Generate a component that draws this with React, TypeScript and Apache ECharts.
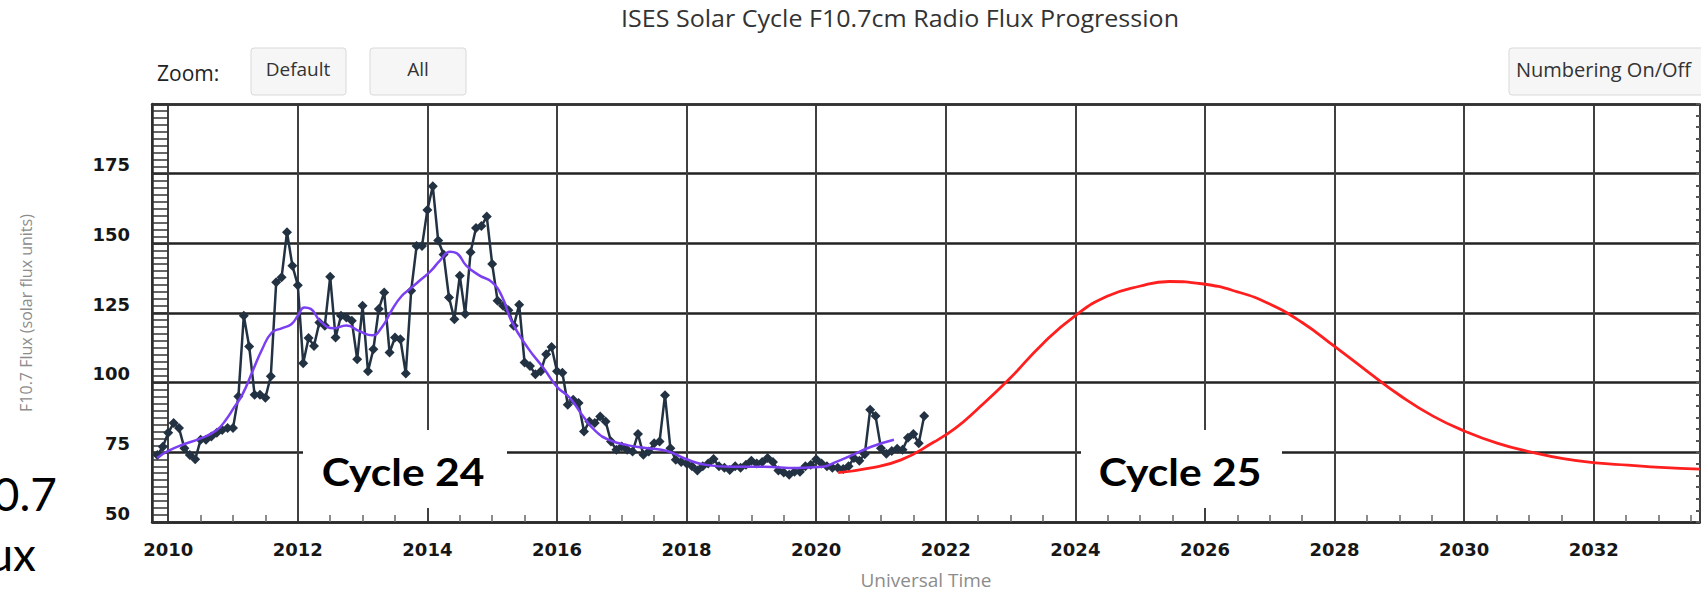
import React, { useEffect, useRef } from 'react';
import * as echarts from 'echarts';

// Observed monthly F10.7, starting November 2009
const obsStartYear = 2009;
const obsStartMonth = 11;
const observedFlux = [
  74, 77,
  82, 85.5, 83.7, 76.5, 74, 72.5, 79.5, 79.5, 80.7, 82, 83, 83.7,
  83.7, 95, 124, 113, 95.7, 95.7, 94.6, 102.3, 136, 137.8, 154, 142,
  135, 107, 116, 113.2, 121.6, 120.4, 138, 116.2, 124, 123.4, 122.2, 108.4,
  127.6, 104.1, 112, 126.4, 132.4, 110.8, 116.2, 115.6, 103.3, 133, 149, 149,
  162, 170.5, 151, 146, 130.6, 122.8, 138.4, 124.6, 146.8, 155.5, 156.2, 159.6,
  142.6, 129.4, 127.6, 126, 120.4, 128, 107.2, 106, 103, 104.1, 110.2, 112.8,
  104.1, 103.6, 92.1, 93.9, 92.7, 82.5, 86.1, 85.5, 87.9, 86.1, 78.9, 75.9,
  77.1, 75.9, 75.3, 81.6, 74.1, 75.3, 78.3, 78.9, 95.5, 76.5, 72.3, 71.5,
  71, 70, 68.5, 70, 71, 72.6, 70, 69.5, 68.7, 70, 69.5, 70.5,
  72, 71, 71.5, 73, 71.5, 68.5, 67.8, 67, 68, 68, 70, 70.5,
  72.5, 71, 70, 69.5, 69.5, 69, 70, 73, 72, 74.3, 90.3, 88,
  76.5, 74.5, 75.5, 76.3, 75.9, 80.2, 81.6, 78.3, 88,
];

// Smoothed observed flux (purple)
const smoothYears = [
  2009.83, 2010.0, 2010.25, 2010.5, 2010.75, 2010.9, 2011.0, 2011.15, 2011.3, 2011.45,
  2011.6, 2011.75, 2011.9, 2012.0, 2012.1, 2012.2, 2012.35, 2012.55, 2012.75, 2012.95,
  2013.15, 2013.3, 2013.45, 2013.6, 2013.75, 2013.9, 2014.05, 2014.2, 2014.35, 2014.45,
  2014.6, 2014.8, 2015.0, 2015.15, 2015.3, 2015.55, 2015.8, 2016.0, 2016.2, 2016.4,
  2016.6, 2016.8, 2017.1, 2017.4, 2017.7, 2018.0, 2018.3, 2018.7, 2019.2, 2019.7,
  2020.1, 2020.3, 2020.55, 2020.85, 2021.2,
];
const smoothFlux = [
  73, 75.5, 78, 80, 83, 87, 90.5, 96, 104, 112,
  118, 119.5, 121, 124, 127, 126.5, 122, 119.5, 120.5, 118.5,
  117, 120, 126, 131, 134, 137, 140, 144, 147, 146.5,
  142, 138.5, 136, 131, 122, 112.5, 105, 98.5, 94.5, 88,
  82.5, 79.5, 77.5, 76.5, 75.5, 72.5, 70.5, 69.8, 69.8, 69.4,
  69.8, 71.5, 74, 77, 79.5,
];

// Cycle 25 predicted flux (red)
const predYears = [
  2020.34, 2020.8, 2021.31, 2021.81, 2022.15, 2022.48, 2022.98, 2023.49, 2023.99, 2024.49,
  2024.99, 2025.45, 2025.95, 2026.5, 2027.0, 2027.5, 2028.0, 2028.51, 2029.01, 2029.52,
  2030.02, 2030.52, 2031.03, 2031.53, 2032.03, 2032.53, 2033.03, 2033.64,
];
const predFlux = [
  67.7, 69.2, 72.3, 78.6, 83.7, 90.3, 101.3, 113.8, 123.9, 131,
  134.6, 136.3, 135.5, 132.6, 128.2, 121.6, 113, 104, 95.4, 88,
  82.5, 78.2, 75.1, 72.7, 71.2, 70.4, 69.6, 69.0,
];

const xMin = 2009.75;
const xMax = 2033.64;
const yMin = 50;
const yMax = 200;
const yStep = 25;

const titleText = 'ISES Solar Cycle F10.7cm Radio Flux Progression';
const yName = 'F10.7 Flux (solar flux units)';
const xName = 'Universal Time';
const cycleLabels = ['Cycle 24', 'Cycle 25'];

export default function App() {
  const ref = useRef<HTMLDivElement>(null);

  useEffect(() => {
    if (!ref.current) return;
    const chart = echarts.init(ref.current, null, { renderer: 'svg' });

    const observed = observedFlux.map((v, i) => {
      const m = obsStartMonth - 1 + i;
      return [obsStartYear + m / 12, v];
    });
    const smooth = smoothYears.map((t, i) => [t, smoothFlux[i]]);
    const pred = predYears.map((t, i) => [t, predFlux[i]]);

    const tickFont = { fontFamily: 'DejaVu Sans', fontWeight: 'bold' as const, fontSize: 18, color: '#161616' };

    const option: any = {
      animation: false,
      backgroundColor: '#ffffff',
      grid: { left: 152, right: 1, top: 104, bottom: 69, show: false, outerBoundsMode: 'none' },
      xAxis: [
        {
          type: 'value',
          min: xMin,
          max: xMax,
          splitNumber: 12,
          minInterval: 2,
          maxInterval: 2,
          name: xName,
          nameLocation: 'middle',
          nameGap: 48,
          nameTextStyle: { fontFamily: 'Open Sans', fontSize: 19, color: '#8c8c8c' },
          axisLine: { show: true, lineStyle: { color: '#2a2a2a', width: 2.5 } },
          axisTick: { show: false, inside: true },
          minorTick: { show: true, splitNumber: 4, length: 7, lineStyle: { color: '#666', width: 1.5 } },
          axisLabel: {
            ...tickFont,
            margin: 18,
            showMinLabel: true,
            showMaxLabel: true,
            formatter: (v: number) => {
              const r = Math.round(v);
              return Math.abs(v - r) < 1e-6 && r % 2 === 0 ? String(r) : '';
            },
          },
          splitLine: { show: true, lineStyle: { color: '#404040', width: 2 } },
        },
        {
          type: 'value',
          position: 'top',
          min: xMin,
          max: xMax,
          axisLine: { show: true, lineStyle: { color: '#333', width: 2.5 } },
          axisTick: { show: false },
          axisLabel: { show: false },
          splitLine: { show: false },
        },
      ],
      yAxis: [
        {
          type: 'value',
          min: yMin,
          max: yMax,
          interval: yStep,
          name: yName,
          nameLocation: 'middle',
          nameRotate: 90,
          nameGap: 118,
          nameTextStyle: { fontFamily: 'Open Sans', fontSize: 16, color: '#8c8c8c' },
          axisLine: { show: true, lineStyle: { color: '#2a2a2a', width: 2.5 } },
          axisTick: { show: true, inside: true, length: 16, lineStyle: { color: '#333', width: 1.5 } },
          minorTick: { show: true, splitNumber: 10, length: 16, lineStyle: { color: '#333', width: 1.5 } },
          axisLabel: {
            ...tickFont,
            margin: 22,
            verticalAlign: 'bottom',
            formatter: (v: number) => (v >= yMax ? '' : String(v)),
          },
          splitLine: { show: true, lineStyle: { color: '#222', width: 2.5 } },
        },
        {
          type: 'value',
          position: 'right',
          min: yMin,
          max: yMax,
          interval: yStep,
          axisLine: { show: false },
          axisTick: { show: true, inside: true, length: 4, lineStyle: { color: '#555', width: 2 } },
          minorTick: { show: true, splitNumber: 6, length: 4, lineStyle: { color: '#555', width: 2 } },
          axisLabel: { show: false },
          splitLine: { show: false },
        },
      ],
      series: [
        {
          name: 'Observed',
          type: 'line',
          data: observed,
          symbol: 'diamond',
          symbolSize: 10,
          lineStyle: { color: '#223243', width: 2.5 },
          itemStyle: { color: '#223243' },
          z: 3,
        },
        {
          name: 'Smoothed',
          type: 'line',
          data: smooth,
          smooth: true,
          symbol: 'none',
          lineStyle: { color: '#7b3ff2', width: 2.5 },
          z: 4,
        },
        {
          name: 'Predicted',
          type: 'line',
          data: pred,
          smooth: true,
          symbol: 'none',
          lineStyle: { color: '#ff1f1f', width: 2.8 },
          z: 4,
        },
      ],
      graphic: [
        {
          type: 'text', x: 900, y: 18, z: 20, scaleX: 1.09,
          style: { text: titleText, font: '23px "Open Sans"', fill: '#333', textAlign: 'center', textVerticalAlign: 'middle' },
        },
        {
          type: 'text', x: 157, y: 73, z: 20,
          style: { text: 'Zoom:', font: '21px "Open Sans"', fill: '#222', textAlign: 'left', textVerticalAlign: 'middle' },
        },
        { type: 'rect', z: 20, shape: { x: 251, y: 48, width: 95, height: 47, r: 3 }, style: { fill: '#f6f6f6', stroke: '#d9d9d9', lineWidth: 1 } },
        {
          type: 'text', x: 298, y: 69, z: 21,
          style: { text: 'Default', font: '19px "Open Sans"', fill: '#333', textAlign: 'center', textVerticalAlign: 'middle' },
        },
        { type: 'rect', z: 20, shape: { x: 370, y: 48, width: 96, height: 47, r: 3 }, style: { fill: '#f6f6f6', stroke: '#d9d9d9', lineWidth: 1 } },
        {
          type: 'text', x: 418, y: 69, z: 21,
          style: { text: 'All', font: '19px "Open Sans"', fill: '#333', textAlign: 'center', textVerticalAlign: 'middle' },
        },
        { type: 'rect', z: 20, shape: { x: 1509, y: 48, width: 200, height: 47, r: 3 }, style: { fill: '#f6f6f6', stroke: '#d9d9d9', lineWidth: 1 } },
        {
          type: 'text', x: 1516, y: 69, z: 21,
          style: { text: 'Numbering On/Off', font: '20px "Open Sans"', fill: '#333', textAlign: 'left', textVerticalAlign: 'middle' },
        },
        { type: 'rect', z: 20, shape: { x: 303, y: 430, width: 204, height: 78 }, style: { fill: '#ffffff' } },
        {
          type: 'text', x: 403, y: 471, z: 21, scaleX: 1.12,
          style: { text: cycleLabels[0], font: 'bold 38px Lato', fill: '#000', textAlign: 'center', textVerticalAlign: 'middle' },
        },
        { type: 'rect', z: 20, shape: { x: 1081, y: 430, width: 201, height: 78 }, style: { fill: '#ffffff' } },
        {
          type: 'text', x: 1180, y: 471, z: 21, scaleX: 1.12,
          style: { text: cycleLabels[1], font: 'bold 38px Lato', fill: '#000', textAlign: 'center', textVerticalAlign: 'middle' },
        },
        {
          type: 'text', x: 57, y: 493, z: 21,
          style: { text: '0.7', font: '46px Lato', fill: '#000', textAlign: 'right', textVerticalAlign: 'middle' },
        },
        {
          type: 'text', x: 36, y: 553, z: 21,
          style: { text: 'ux', font: '46px Lato', fill: '#000', textAlign: 'right', textVerticalAlign: 'middle' },
        },
      ],
    };

    chart.setOption(option);
    return () => chart.dispose();
  }, []);

  return (
    <div
      ref={ref}
      style={{ position: 'fixed', left: 0, top: 0, width: 1701, height: 591, background: '#fff' }}
    />
  );
}
